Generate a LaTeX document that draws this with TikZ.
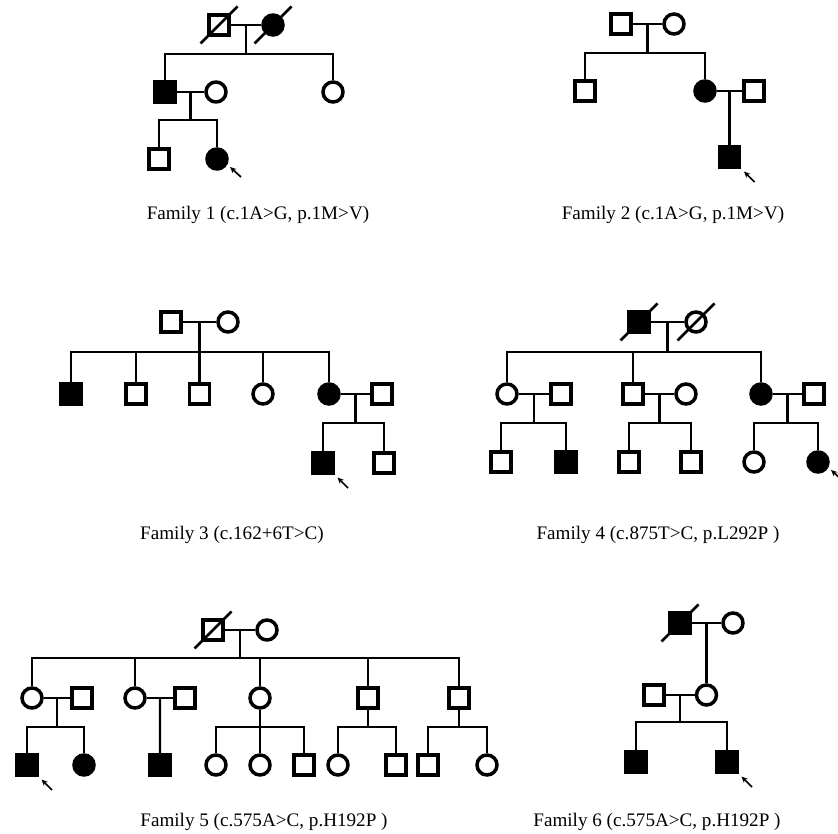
\documentclass[tikz,border=0pt]{standalone}
\usepackage{fontspec}
\setmainfont{Liberation Serif}
\usetikzlibrary{arrows.meta,calc}

\begin{document}
\begin{tikzpicture}[x=0.025cm, y=-0.025cm,
  male/.style={rectangle, draw, line width=2.5pt, minimum size=5.1mm, inner sep=0pt},
  female/.style={circle, draw, line width=2.5pt, minimum size=5.0mm, inner sep=0pt},
  aff/.style={fill=black},
  lnk/.style={line width=1.45pt},
  slash/.style={line width=1.8pt},
  arr/.style={-{Stealth[length=4.5pt,width=4pt]}, line width=1.2pt},
  famlabel/.style={font=\fontsize{13.6}{16}\selectfont}]
\useasboundingbox (0,0) rectangle (838,834);

% Family 1
\node[male] (f1a) at (219,25) {};
\node[female, aff] (f1b) at (273,25) {};
\node[male, aff] (f1c) at (165,92) {};
\node[female] (f1d) at (216,92) {};
\node[female] (f1e) at (333,92) {};
\node[male] (f1f) at (159,159) {};
\node[female, aff] (f1g) at (217,159) {};
\node[famlabel] (l1) at (258,215) {Family 1 (c.1A>G, p.1M>V)};
\coordinate (f1s) at (0,54);
\coordinate (f1t) at (0,120);
\draw[lnk] (f1a) -- (f1b);
\coordinate (f1m) at ($(f1a)!.5!(f1b)$);
\draw[lnk] (f1m) -- (f1m |- f1s);
\draw[lnk] (f1c) -- (f1c |- f1s) -- (f1e |- f1s) -- (f1e);
\draw[lnk] (f1c) -- (f1d);
\coordinate (f1n) at ($(f1c)!.5!(f1d)$);
\draw[lnk] (f1n) -- (f1n |- f1t);
\draw[lnk] (f1f) -- (f1f |- f1t) -- (f1g |- f1t) -- (f1g);

% Family 2
\node[male] (f2a) at (621,24) {};
\node[female] (f2b) at (674,24) {};
\node[male] (f2c) at (585,91) {};
\node[female, aff] (f2d) at (705,91) {};
\node[male] (f2e) at (754,91) {};
\node[male, aff] (f2f) at (729.5,157) {};
\node[famlabel] (l2) at (673,215) {Family 2 (c.1A>G, p.1M>V)};
\coordinate (f2s) at (0,53);
\draw[lnk] (f2a) -- (f2b);
\coordinate (f2m) at ($(f2a)!.5!(f2b)$);
\draw[lnk] (f2m) -- (f2m |- f2s);
\draw[lnk] (f2c) -- (f2c |- f2s) -- (f2d |- f2s) -- (f2d);
\draw[lnk] (f2d) -- (f2e);
\coordinate (f2n) at ($(f2d)!.5!(f2e)$);
\draw[lnk] (f2n) -- (f2f);

% Family 3
\node[male] (f3a) at (171,322) {};
\node[female] (f3b) at (228,322) {};
\node[male, aff] (f3c) at (71,394) {};
\node[male] (f3d) at (136,394) {};
\node[male] (f3e) at (199.5,394) {};
\node[female] (f3f) at (263,394) {};
\node[female, aff] (f3g) at (329,394) {};
\node[male] (f3h) at (382,394) {};
\node[male, aff] (f3i) at (323,463) {};
\node[male] (f3j) at (384,463) {};
\node[famlabel] (l3) at (232,535) {Family 3 (c.162+6T>C)};
\coordinate (f3s) at (0,352);
\coordinate (f3t) at (0,423);
\draw[lnk] (f3a) -- (f3b);
\coordinate (f3m) at ($(f3a)!.5!(f3b)$);
\draw[lnk] (f3m) -- (f3m |- f3s);
\draw[lnk] (f3c) -- (f3c |- f3s) -- (f3g |- f3s) -- (f3g);
\foreach \c in {f3d,f3e,f3f}
  \draw[lnk] (\c |- f3s) -- (\c);
\draw[lnk] (f3g) -- (f3h);
\coordinate (f3n) at ($(f3g)!.5!(f3h)$);
\draw[lnk] (f3n) -- (f3n |- f3t);
\draw[lnk] (f3i) -- (f3i |- f3t) -- (f3j |- f3t) -- (f3j);

% Family 4
\node[male, aff] (f4a) at (639,322) {};
\node[female] (f4b) at (696,322) {};
\node[female] (f4c) at (507,394) {};
\node[male] (f4d) at (561,394) {};
\node[male] (f4e) at (633,394) {};
\node[female] (f4f) at (686,394) {};
\node[female, aff] (f4g) at (761,394) {};
\node[male] (f4h) at (814,394) {};
\node[male] (f4i) at (501,462) {};
\node[male, aff] (f4j) at (566,462) {};
\node[male] (f4k) at (629,462) {};
\node[male] (f4l) at (691,462) {};
\node[female] (f4m) at (754,462) {};
\node[female, aff] (f4n) at (818,462) {};
\node[famlabel] (l4) at (658,535) {Family 4 (c.875T>C, p.L292P )};
\coordinate (f4s) at (0,352);
\coordinate (f4t) at (0,423);
\draw[lnk] (f4a) -- (f4b);
\coordinate (f4m0) at ($(f4a)!.5!(f4b)$);
\draw[lnk] (f4m0) -- (f4m0 |- f4s);
\draw[lnk] (f4c) -- (f4c |- f4s) -- (f4g |- f4s) -- (f4g);
\draw[lnk] (f4e |- f4s) -- (f4e);
\foreach \p/\q/\u/\v in {f4c/f4d/f4i/f4j, f4e/f4f/f4k/f4l, f4g/f4h/f4m/f4n}{
  \draw[lnk] (\p) -- (\q);
  \coordinate (mid) at ($(\p)!.5!(\q)$);
  \draw[lnk] (mid) -- (mid |- f4t);
  \draw[lnk] (\u) -- (\u |- f4t) -- (\v |- f4t) -- (\v);
}

% Family 5
\node[male] (f5a) at (213,630) {};
\node[female] (f5b) at (267,630) {};
\node[female] (f5c) at (32,698) {};
\node[male] (f5d) at (82,698) {};
\node[female] (f5e) at (135,698) {};
\node[male] (f5f) at (185,698) {};
\node[female] (f5g) at (260,698) {};
\node[male] (f5h) at (368,698) {};
\node[male] (f5i) at (459,698) {};
\node[male, aff] (f5j) at (27,765) {};
\node[female, aff] (f5k) at (84,765) {};
\node[male, aff] (f5l) at (160,765) {};
\node[female] (f5n) at (216,765) {};
\node[female] (f5o) at (260,765) {};
\node[male] (f5p) at (304,765) {};
\node[female] (f5q) at (338,765) {};
\node[male] (f5r) at (396,765) {};
\node[male] (f5u) at (428,765) {};
\node[female] (f5v) at (487,765) {};
\node[famlabel] (l5) at (264,822) {Family 5 (c.575A>C, p.H192P )};
\coordinate (f5s) at (0,658);
\coordinate (f5t) at (0,727);
\draw[lnk] (f5a) -- (f5b);
\coordinate (f5m) at ($(f5a)!.5!(f5b)$);
\draw[lnk] (f5m) -- (f5m |- f5s);
\draw[lnk] (f5c) -- (f5c |- f5s) -- (f5i |- f5s) -- (f5i);
\foreach \c in {f5e,f5g,f5h}
  \draw[lnk] (\c |- f5s) -- (\c);
\draw[lnk] (f5c) -- (f5d);
\coordinate (f5ma) at ($(f5c)!.5!(f5d)$);
\draw[lnk] (f5ma) -- (f5ma |- f5t);
\draw[lnk] (f5j) -- (f5j |- f5t) -- (f5k |- f5t) -- (f5k);
\draw[lnk] (f5e) -- (f5f);
\coordinate (f5mb) at ($(f5e)!.5!(f5f)$);
\draw[lnk] (f5mb) -- (f5l);
\foreach \p/\u/\v in {f5g/f5n/f5p, f5h/f5q/f5r, f5i/f5u/f5v}{
  \draw[lnk] (\p) -- (\p |- f5t);
  \draw[lnk] (\u) -- (\u |- f5t) -- (\v |- f5t) -- (\v);
}
\draw[lnk] (f5o |- f5t) -- (f5o);

% Family 6
\node[male, aff] (f6a) at (680,623) {};
\node[female] (f6b) at (733,623) {};
\node[male] (f6c) at (654,695) {};
\node[female] (f6d) at (706.5,695) {};
\node[male, aff] (f6e) at (636,762) {};
\node[male, aff] (f6f) at (727,762) {};
\node[famlabel] (l6) at (657,822) {Family 6 (c.575A>C, p.H192P )};
\coordinate (f6t) at (0,722);
\draw[lnk] (f6a) -- (f6b);
\coordinate (f6m) at ($(f6a)!.5!(f6b)$);
\draw[lnk] (f6m) -- (f6d);
\draw[lnk] (f6c) -- (f6d);
\coordinate (f6n) at ($(f6c)!.5!(f6d)$);
\draw[lnk] (f6n) -- (f6n |- f6t);
\draw[lnk] (f6e) -- (f6e |- f6t) -- (f6f |- f6t) -- (f6f);

% deceased
\foreach \n in {f1a,f1b,f4a,f4b,f5a,f6a}
  \draw[slash] ($(\n)+(-18.5,18.5)$) -- ($(\n)+(18.5,-18.5)$);

% probands
\foreach \n in {f2f,f3i,f5j,f6f}
  \draw[arr] ($(\n)+(25,25)$) -- ($(\n)+(14.5,14.5)$);
\foreach \n in {f1g,f4n}
  \draw[arr] ($(\n)+(24,18)$) -- ($(\n)+(13,8)$);
\end{tikzpicture}
\end{document}
